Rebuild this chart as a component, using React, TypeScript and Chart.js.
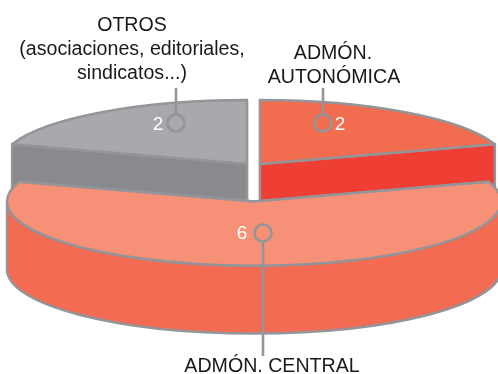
import React, { useEffect, useRef } from "react";
import { Chart, registerables } from "chart.js";

Chart.register(...registerables);

const categories = ["ADMÓN. AUTONÓMICA", "ADMÓN. CENTRAL", "OTROS"];
const values = [2, 6, 2];
const topColors = ["#f26c50", "#f69077", "#a7a9ac"];
const wallColors = ["#ef3e33", "#f26b52", "#898a8d"];

const OUTLINE = "#939598";
const FONT = '"Liberation Sans", Arial, sans-serif';
const RX = 247;
const RY = 64;
const DEPTH = 68;
const sliceCentres = [
  { x: 260, y: 164 },
  { x: 254, y: 201.5 },
  { x: 247, y: 164 },
];
const drawOrder = [0, 2, 1];

const captions = [
  { text: "OTROS", x: 132, y: 31 },
  { text: "(asociaciones, editoriales,", x: 132, y: 55 },
  { text: "sindicatos...)", x: 132, y: 79 },
  { text: "ADMÓN.", x: 333, y: 59 },
  { text: "AUTONÓMICA", x: 334, y: 83 },
  { text: "ADMÓN. CENTRAL", x: 272, y: 372 },
];
const leaders = [
  { x: 323, y: 123, from: 88, to: 114, labelX: 340, labelY: 130, index: 0 },
  { x: 263, y: 233, from: 242, to: 356, labelX: 242, labelY: 239, index: 1 },
  { x: 176, y: 123, from: 88, to: 114, labelX: 158, labelY: 130, index: 2 },
];

const pie3d = {
  id: "pie3d",
  beforeDatasetsDraw(chart: any) {
    const ctx: CanvasRenderingContext2D = chart.ctx;
    const arcs = chart.getDatasetMeta(0).data;
    ctx.save();
    ctx.lineJoin = "round";
    ctx.strokeStyle = OUTLINE;
    ctx.lineWidth = 2.4;
    for (const i of drawOrder) {
      const el = arcs[i];
      const c = sliceCentres[i];
      const a0 = el.startAngle;
      const a1 = el.endAngle;
      const px = (a: number) => c.x + RX * Math.cos(a);
      const py = (a: number) => c.y + RY * Math.sin(a);

      // radial cut faces
      ctx.fillStyle = wallColors[i];
      for (const a of [a0, a1]) {
        ctx.beginPath();
        ctx.moveTo(c.x, c.y);
        ctx.lineTo(px(a), py(a));
        ctx.lineTo(px(a), py(a) + DEPTH);
        ctx.lineTo(c.x, c.y + DEPTH);
        ctx.closePath();
        ctx.fill();
        ctx.stroke();
      }

      // curved outer wall, front half only
      const w0 = Math.max(a0, 0);
      const w1 = Math.min(a1, Math.PI);
      if (w1 > w0) {
        ctx.beginPath();
        ctx.ellipse(c.x, c.y, RX, RY, 0, w0, w1);
        ctx.lineTo(px(w1), py(w1) + DEPTH);
        ctx.ellipse(c.x, c.y + DEPTH, RX, RY, 0, w1, w0, true);
        ctx.closePath();
        ctx.fill();
        ctx.stroke();
      }

      // top surface: the library's own arc, squashed into place
      const k = el.outerRadius;
      ctx.save();
      ctx.translate(c.x, c.y);
      ctx.scale(RX / k, RY / k);
      ctx.translate(-el.x, -el.y);
      el.draw(ctx);
      ctx.restore();

      ctx.beginPath();
      ctx.moveTo(c.x, c.y);
      ctx.ellipse(c.x, c.y, RX, RY, 0, a0, a1);
      ctx.closePath();
      ctx.stroke();
    }

    // leaders and value labels
    ctx.lineWidth = 2.6;
    ctx.textAlign = "center";
    ctx.textBaseline = "alphabetic";
    for (const l of leaders) {
      ctx.beginPath();
      ctx.moveTo(l.x, l.from);
      ctx.lineTo(l.x, l.to);
      ctx.stroke();
      ctx.beginPath();
      ctx.arc(l.x, l.y, 8.5, 0, Math.PI * 2);
      ctx.stroke();
      ctx.fillStyle = "#ffffff";
      ctx.font = `19px ${FONT}`;
      ctx.fillText(String(values[l.index]), l.labelX, l.labelY);
    }

    ctx.fillStyle = "#1a1a1a";
    ctx.font = `19.6px ${FONT}`;
    for (const t of captions) ctx.fillText(t.text, t.x, t.y);
    ctx.restore();
    return false;
  },
};

export default function App() {
  const ref = useRef<HTMLCanvasElement>(null);
  useEffect(() => {
    document.body.style.margin = "0";
    const chart = new Chart(ref.current!, {
      type: "pie",
      data: {
        labels: categories,
        datasets: [{ data: values, backgroundColor: topColors, borderWidth: 0 }],
      },
      options: {
        responsive: false,
        animation: false,
        layout: { padding: 0 },
        plugins: { legend: { display: false }, tooltip: { enabled: false } },
      },
      plugins: [pie3d],
    } as any);
    return () => chart.destroy();
  }, []);
  return <canvas ref={ref} width={498} height={374} style={{ display: "block" }} />;
}
